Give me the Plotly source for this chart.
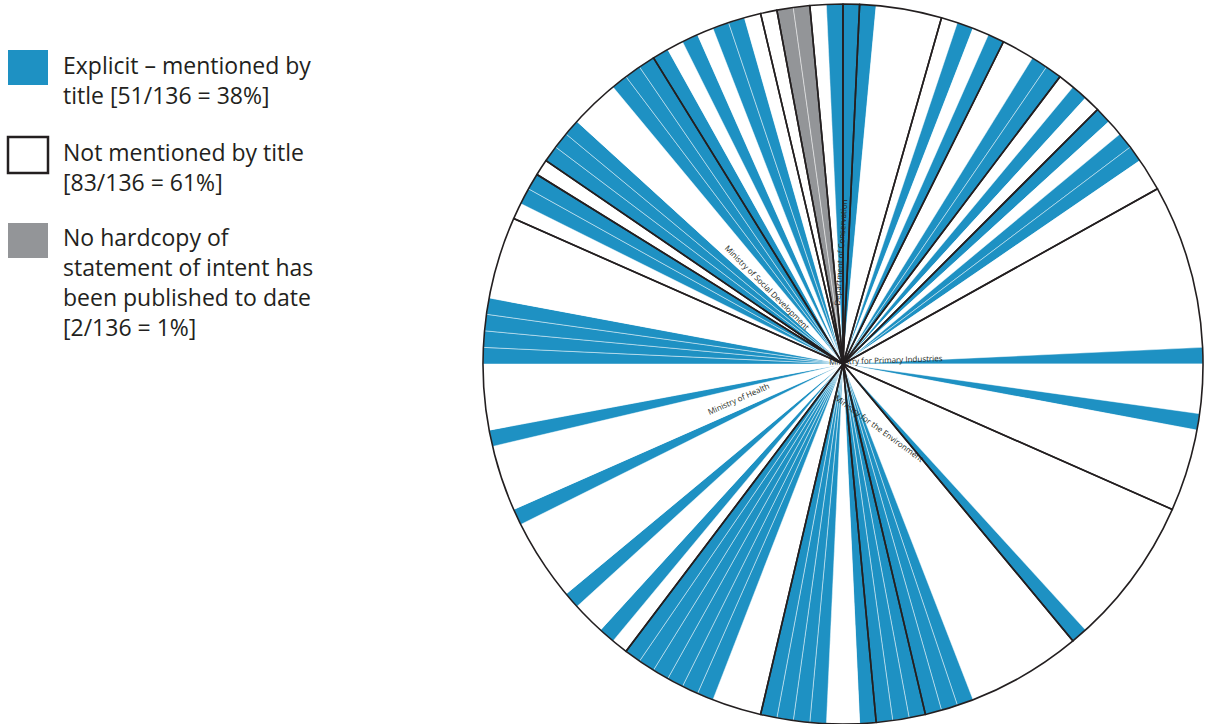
import plotly.graph_objects as go

# status of each of the 136 statements, clockwise from 12 o'clock
# E = explicit (mentioned by title), N = not mentioned, H = no hardcopy
status = (
    ["E", "E", "N", "N", "N", "N", "N", "E", "N", "E",
     "N", "N", "E", "E", "N", "E", "N", "E", "N", "E",
     "E", "N"]
    + ["N"] * 11 + ["E"] + ["N"] * 3 + ["E"] + ["N"] * 14 + ["E"]
    + ["N"] * 7 + ["E"] * 7 + ["N"] * 2
    + ["E"] * 4 + ["N"] * 3 + ["E"] * 6
    + ["N", "E", "N", "N", "E"] + ["N"] * 5 + ["E"] + ["N"] * 4 + ["E"]
    + ["N"] * 4 + ["E"] * 4 + ["N"] * 6 + ["E"] * 2 + ["N"] + ["E"] * 3
    + ["N"] * 3 + ["E"] * 4 + ["N", "E", "N", "E", "E", "N", "N", "H", "H", "N", "E"]
)
# number of statements per agency (black dividers), clockwise from 12 o'clock
group_sizes = [1, 5, 4, 4, 3, 6, 20, 10, 10, 3, 7, 9, 29, 3, 1, 9, 7, 1, 2, 2]

legend_items = [
    ("E", "Explicit \u2013 mentioned by<br>title [51/136 = 38%]"),
    ("N", "Not mentioned by title<br>[83/136 = 61%]"),
    ("H", "No hardcopy of<br>statement of intent has<br>been published to date<br>[2/136 = 1%]"),
]
colors = {"E": "#1e91c3", "N": "#ffffff", "H": "#939598"}

agency_labels = [
    ("Department of Conservation", 851, 252, -86),
    ("Ministry of Social Development", 768, 287, 45),
    ("Ministry for Primary Industries", 945, 359, -2),
    ("Ministry for the Environment", 930, 428, 36),
    ("Ministry of Health", 738, 398, -24),
]

W, H = 1205, 724
cx, cy, r = 843, 364, 360
dom = dict(x=[(cx - r) / W, (cx + r) / W], y=[(H - cy - r) / H, (H - cy + r) / H])

fig = go.Figure()
fig.add_trace(go.Pie(
    values=[1] * len(status),
    labels=[str(i + 1) for i in range(len(status))],
    marker=dict(colors=[colors[s] for s in status],
                line=dict(color="rgba(255,255,255,0.75)", width=0.6)),
    sort=False, direction="clockwise", rotation=0,
    textinfo="none", hoverinfo="label", showlegend=False, domain=dom,
))
fig.add_trace(go.Pie(
    values=group_sizes,
    labels=["g%d" % i for i in range(len(group_sizes))],
    marker=dict(colors=["rgba(0,0,0,0)"] * len(group_sizes),
                line=dict(color="#231f20", width=1.6)),
    sort=False, direction="clockwise", rotation=0,
    textinfo="none", hoverinfo="skip", showlegend=False, domain=dom,
))

shapes = []
annotations = []
box_y = [(50, 85), (137, 173), (223, 258)]
text_y = [47, 134, 219]
for (key, txt), (y0, y1), ty in zip(legend_items, box_y, text_y):
    shapes.append(dict(type="rect", xref="paper", yref="paper",
                       x0=8 / W, x1=48 / W, y0=1 - y1 / H, y1=1 - y0 / H,
                       fillcolor=colors[key],
                       line=dict(color="#231f20" if key == "N" else colors[key],
                                 width=2.5 if key == "N" else 0)))
    annotations.append(dict(text=txt, xref="paper", yref="paper",
                            x=61 / W, y=1 - ty / H, xanchor="left", yanchor="top",
                            showarrow=False, align="left",
                            font=dict(family="Open Sans", size=23, color="#231f20")))

for txt, x, y, ang in agency_labels:
    annotations.append(dict(text=txt, xref="paper", yref="paper", x=x / W, y=1 - y / H,
                            showarrow=False, textangle=ang,
                            font=dict(family="Open Sans", size=8, color="#231f20")))

fig.update_layout(width=W, height=H, margin=dict(l=0, r=0, t=0, b=0),
                  paper_bgcolor="white", plot_bgcolor="white",
                  shapes=shapes, annotations=annotations)
fig.write_html("out.html", config={"displayModeBar": False},
               post_script="document.body.style.margin='0';document.body.style.overflow='hidden';")
